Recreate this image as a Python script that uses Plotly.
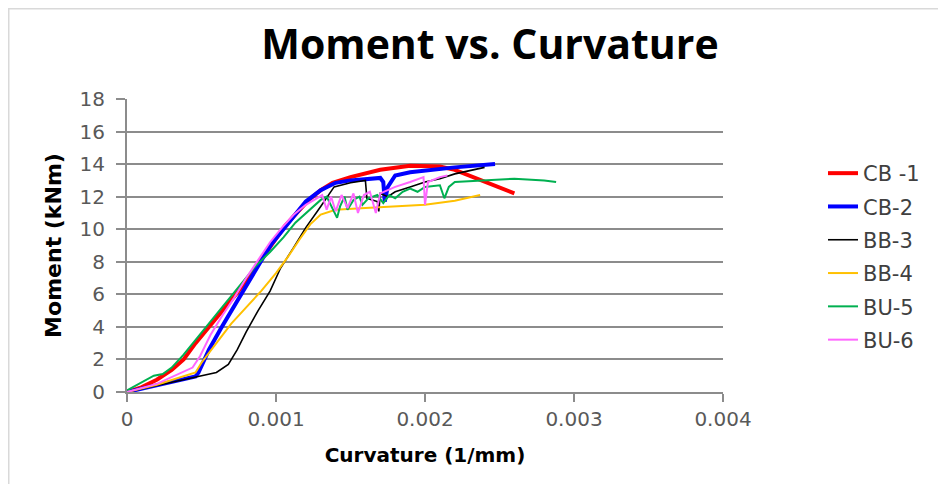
import plotly.graph_objects as go

# ---- data ----
cb1_x = [0, 0.0001, 0.0002, 0.0003, 0.00038, 0.00046, 0.00055, 0.00065, 0.00074, 0.00082, 0.0009,
         0.00098, 0.00106, 0.00114, 0.00122, 0.0013, 0.00138, 0.0015, 0.0017, 0.0019, 0.0021,
         0.0022, 0.0024, 0.0026]
cb1_y = [0, 0.3, 0.75, 1.35, 2.0, 3.0, 4.0, 5.1, 6.1, 7.1, 8.1, 9.2, 10.2, 11.0, 11.8, 12.4, 12.85,
         13.2, 13.65, 13.9, 13.85, 13.65, 12.9, 12.2]

cb2_x = [0, 0.0002, 0.00046, 0.00048, 0.00055, 0.00063, 0.00072, 0.0008, 0.00089, 0.00097, 0.00106,
         0.00114, 0.0012, 0.0013, 0.0014, 0.0015, 0.0016, 0.0017, 0.00172, 0.00173, 0.00175,
         0.0018, 0.0019, 0.002, 0.0022, 0.00247]
cb2_y = [0, 0.4, 0.95, 1.2, 2.6, 3.9, 5.3, 6.6, 7.9, 9.1, 10.1, 11.0, 11.7, 12.4, 12.85, 13.0, 13.1,
         13.15, 12.9, 11.7, 12.6, 13.3, 13.5, 13.6, 13.8, 14.0]

bb3_x = [0, 0.0002, 0.00042, 0.0006, 0.00068, 0.00074, 0.0008, 0.00088, 0.00096, 0.00103, 0.00112,
         0.0012, 0.0013, 0.00139, 0.0015, 0.0016, 0.00161, 0.00168, 0.00169, 0.0017, 0.00175,
         0.0018, 0.0019, 0.002, 0.0021, 0.0022, 0.0023, 0.0024]
bb3_y = [0, 0.4, 0.85, 1.2, 1.7, 2.6, 3.7, 5.0, 6.2, 7.6, 8.9, 10.1, 11.4, 12.6, 12.85, 13.0, 11.9,
         11.7, 11.1, 12.2, 12.0, 12.3, 12.6, 12.9, 13.1, 13.4, 13.6, 13.8]

bb4_x = [0, 0.0002, 0.00046, 0.0005, 0.0006, 0.0007, 0.0008, 0.0009, 0.001, 0.00108, 0.00116,
         0.00123, 0.0013, 0.0014, 0.0016, 0.0018, 0.002, 0.0022, 0.00237]
bb4_y = [0, 0.45, 1.2, 1.8, 3.0, 4.2, 5.2, 6.2, 7.3, 8.3, 9.4, 10.3, 10.9, 11.2, 11.3, 11.4, 11.5,
         11.75, 12.1]

bu5_x = [0, 0.0001, 0.00018, 0.00024, 0.0003, 0.00038, 0.00046, 0.00054, 0.00062, 0.0007, 0.00078,
         0.00086, 0.00096, 0.00105, 0.00113, 0.0012, 0.0013, 0.00134, 0.00138, 0.00141, 0.00143,
         0.00146, 0.00148, 0.00152, 0.00156, 0.00158, 0.00162, 0.00168, 0.00172, 0.00176, 0.0018,
         0.00185, 0.0019, 0.00195, 0.002, 0.0021, 0.00213, 0.00216, 0.0022, 0.0024, 0.0026, 0.0028,
         0.00288]
bu5_y = [0.1, 0.6, 1.0, 1.1, 1.5, 2.3, 3.2, 4.1, 5.0, 5.9, 6.8, 7.7, 8.6, 9.5, 10.4, 11.0, 11.8, 12.0,
         11.3, 10.7, 11.4, 12.0, 11.2, 11.8, 12.0, 11.5, 11.9, 12.1, 11.6, 12.1, 11.9, 12.3, 12.5,
         12.3, 12.6, 12.7, 11.9, 12.6, 12.9, 13.0, 13.1, 13.0, 12.9]

bu6_x = [0, 0.0002, 0.00044, 0.00049, 0.00056, 0.00064, 0.00072, 0.0008, 0.00088, 0.00096, 0.00104,
         0.00112, 0.0012, 0.00128, 0.00131, 0.00134, 0.00137, 0.0014, 0.00144, 0.00148, 0.00152,
         0.00155, 0.00159, 0.00163, 0.00167, 0.0017, 0.00175, 0.0018, 0.0019, 0.00199, 0.002,
         0.00202, 0.0021, 0.00215]
bu6_y = [0, 0.5, 1.5, 2.2, 3.5, 4.7, 5.8, 7.0, 8.1, 9.2, 10.1, 10.9, 11.5, 11.9, 12.1, 11.2, 12.0,
         11.1, 12.1, 11.3, 12.2, 11.0, 12.1, 12.3, 11.0, 12.2, 12.4, 12.6, 12.9, 13.2, 11.5, 12.9,
         13.2, 13.3]

series_names = ["CB -1", "CB-2", "BB-3", "BB-4", "BU-5", "BU-6"]
x_ticks = [0, 0.001, 0.002, 0.003, 0.004]
x_tick_labels = ["0", "0.001", "0.002", "0.003", "0.004"]
y_ticks = [0, 2, 4, 6, 8, 10, 12, 14, 16, 18]

series = [
    (cb1_x, cb1_y, "#FF0000", 4),
    (cb2_x, cb2_y, "#0000FF", 4),
    (bb3_x, bb3_y, "#000000", 1.6),
    (bb4_x, bb4_y, "#FFC000", 2),
    (bu5_x, bu5_y, "#00B050", 2),
    (bu6_x, bu6_y, "#FF66FF", 2),
]

FONT = "DejaVu Sans, sans-serif"
BOLD = "Open Sans, sans-serif"

fig = go.Figure()
for name, (xs, ys, col, w) in zip(series_names, series):
    fig.add_trace(go.Scatter(x=xs, y=ys, mode="lines", name=name, legendgroup=name,
                             line=dict(color=col, width=w)))

# page body adds 8px offset; figure sized to fit window
W, H = 938, 476
L, T = 119, 91
pw, ph = 596, 293
R, B = W - L - pw, H - T - ph

fig.update_layout(
    width=W, height=H,
    margin=dict(l=L, r=R, t=T, b=B),
    paper_bgcolor="white", plot_bgcolor="white",
    font=dict(family=FONT, size=20, color="#595959"),
    title=dict(text="<b>Moment vs. Curvature</b>", x=482 / W, xanchor="center",
               y=1 - 37 / H, yanchor="middle",
               font=dict(family=BOLD, size=41, color="#000000")),
    legend=dict(x=(815 - L) / pw, xanchor="left", y=(T + ph - 145) / ph, yanchor="top",
                font=dict(family=FONT, size=21, color="#404040"),
                tracegroupgap=3, bgcolor="rgba(0,0,0,0)"),
    showlegend=True,
)
fig.update_xaxes(range=[0, 0.004], tickvals=x_ticks, ticktext=x_tick_labels,
                 showgrid=False, showline=True, linecolor="#8c8c8c", linewidth=2,
                 ticks="outside", ticklen=8, tickcolor="#8c8c8c", tickwidth=2,
                 tickfont=dict(family=FONT, size=20, color="#595959"), zeroline=False,
                 title=dict(text="<b>Curvature (1/mm)</b>", standoff=18,
                            font=dict(family="DejaVu Sans, sans-serif", size=20, color="#000000")))
fig.update_yaxes(range=[0, 18], tickvals=y_ticks,
                 showgrid=True, gridcolor="#8c8c8c", gridwidth=2,
                 showline=True, linecolor="#8c8c8c", linewidth=2,
                 ticks="outside", ticklen=9, tickcolor="#8c8c8c", tickwidth=2,
                 ticklabelstandoff=7,
                 tickfont=dict(family=FONT, size=20, color="#595959"), zeroline=False,
                 title=dict(text="<b>Moment (kNm)</b>", standoff=12,
                            font=dict(family="DejaVu Sans, sans-serif", size=22, color="#000000")))

# outer frame of the chart area
fig.add_shape(type="rect", xref="paper", yref="paper",
              x0=(0.75 - L) / pw, x1=(937 - L) / pw, y0=(T + ph - 490) / ph, y1=(T + ph - 0.75) / ph,
              line=dict(color="#d9d9d9", width=1.5), layer="below")

fig.write_html("out.html")
